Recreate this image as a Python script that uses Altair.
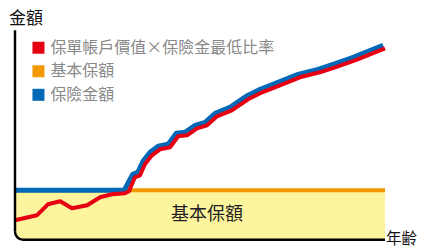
import altair as alt
import pandas as pd

# ---- data (arbitrary units: x = age axis 0-100, y = amount 0-100)
series_names = ["保單帳戶價值×保險金最低比率", "基本保額", "保險金額"]
series_colors = ["#E60012", "#F39800", "#0068B7"]

red_x = [0, 5.9, 8.9, 12.2, 15.4, 19.5, 23, 26.2, 29.7, 30.8, 32.4, 33.8, 35.1, 37, 39.2,
         41.9, 44.1, 46.5, 49.2, 51.9, 54.6, 58.6, 63, 66.8, 71.6, 77, 82.4, 86.5, 91.9, 100]
red_y = [10, 12.5, 18, 19.5, 16, 17.5, 21.5, 23, 23.5, 24.5, 31.5, 32.5, 38, 42.5, 45.5,
         46.5, 52, 52.5, 56, 57.5, 62, 65, 70.5, 74, 77.5, 81.5, 84, 86.5, 90, 96]

blue_x = [0, 29.5, 31.8, 33.2, 34.6, 36.5, 38.7, 41.4, 43.6, 46, 48.7, 51.4, 54.1, 58.1,
          62.5, 66.3, 71.1, 76.5, 81.9, 86, 91.4, 99.5]
blue_y = [25, 25, 33, 34, 39.5, 44, 47, 48, 53.5, 54, 57.5, 59, 63.5, 66.5,
          72, 75.5, 79, 83, 85.5, 88, 91.5, 97.5]

base_x = [0, 100]
base_y = [25, 25]

FONT = "Noto Sans CJK TC"

# the page shrinks the 417px-wide svg into 409px: lay out in page pixels and convert
S = 409 / 417


def cx(p):
    return (p - 8) / S


def frame(xs, ys, name):
    return pd.DataFrame({"x": xs, "y": ys, "series": name})


red_df = frame(red_x, red_y, series_names[0])
base_df = frame(base_x, base_y, series_names[1])
blue_df = frame(blue_x, blue_y, series_names[2])
band_df = pd.DataFrame({"x0": [base_x[0]], "x1": [base_x[1]], "y0": [0], "y1": [base_y[0]]})
label_df = pd.DataFrame({"x": [51.9], "y": [13], "t": ["基本保額"]})

xscale = alt.Scale(domain=[0, 100], range=[cx(15), cx(385)], nice=False, zero=False)
yscale = alt.Scale(domain=[0, 100], range=[cx(238), cx(38)], nice=False, zero=False)

sym = 12 / S
color = alt.Color(
    "series:N",
    scale=alt.Scale(domain=series_names, range=series_colors),
    legend=alt.Legend(
        title=None, orient="none", legendX=22.9, legendY=30, padding=0,
        symbolType="square", symbolSize=(sym / 2) ** 2, symbolStrokeWidth=sym / 2,
        labelFont=FONT, labelFontSize=16 / S, labelColor="#888888", labelOffset=4,
        rowPadding=-8, labelLimit=400,
    ),
)


def line(df, width):
    return alt.Chart(df).mark_line(strokeWidth=width / S, strokeJoin="round").encode(
        x=alt.X("x:Q", scale=xscale, axis=None),
        y=alt.Y("y:Q", scale=yscale, axis=None),
        color=color,
        order="x:Q",
    )


R = 8 / S
band = alt.Chart(band_df).mark_rect(color="#FDF49E", cornerRadiusBottomLeft=R).encode(
    x=alt.X("x0:Q", scale=xscale, axis=None), x2="x1:Q",
    y=alt.Y("y0:Q", scale=yscale, axis=None), y2="y1:Q",
)

band_label = alt.Chart(label_df).mark_text(font=FONT, fontSize=18 / S, color="#222222").encode(
    x=alt.X("x:Q", scale=xscale, axis=None),
    y=alt.Y("y:Q", scale=yscale, axis=None),
    text="t:N",
)

ax_x = cx(15)
ax_y = cx(237.5)
yline = alt.Chart(band_df).mark_rule(color="black", strokeWidth=2.5).encode(
    x=alt.value(ax_x), y=alt.value(cx(28)), y2=alt.value(ax_y - R))
xline = alt.Chart(band_df).mark_rule(color="black", strokeWidth=2.5).encode(
    x=alt.value(ax_x + R), x2=alt.value(cx(385)), y=alt.value(ax_y))
corner = alt.Chart(band_df).mark_arc(
    color="black", theta=3.14159265, theta2=4.71238898, radius=R + 1.25, radius2=R - 1.25
).encode(x=alt.value(ax_x + R), y=alt.value(ax_y - R))

ytitle = alt.Chart(band_df).mark_text(
    text="金額", font=FONT, fontSize=17 / S, color="#111111", align="left", baseline="top"
).encode(x=alt.value(1), y=alt.value(0))
xtitle = alt.Chart(band_df).mark_text(
    text="年齢", font=FONT, fontSize=15.5 / S, color="#111111", align="left", baseline="middle"
).encode(x=alt.value(cx(386)), y=alt.value(cx(237)))

chart = alt.layer(
    band, line(base_df, 4), line(blue_df, 5), line(red_df, 4),
    band_label, yline, xline, corner, ytitle, xtitle,
).properties(
    width=417, height=240, autosize=alt.AutoSizeParams(type="none"),
    padding=0, background="white",
).configure_view(stroke=None)

chart.save("out.html", embed_options={"renderer": "svg", "actions": False})
